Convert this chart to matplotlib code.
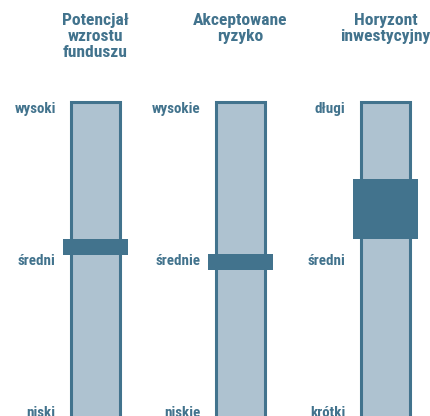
import matplotlib
matplotlib.use("Agg")
import matplotlib.pyplot as plt
import matplotlib.patches as patches

titles = ["Potencjał\nwzrostu\nfunduszu", "Akceptowane\nryzyko", "Horyzont\ninwestycyjny"]
level_labels = [["niski", "średni", "wysoki"],
                ["niskie", "średnie", "wysokie"],
                ["krótki", "średni", "długi"]]
level_values = [0, 1, 2]
marker_low = [1.04, 0.94, 1.145]
marker_high = [1.145, 1.045, 1.54]

dark = "#42738d"
light = "#aec2d0"
font = "Roboto Condensed"

fig = plt.figure(figsize=(4.31, 4.16), dpi=100)
ax = fig.add_axes([0, 0, 1, 1])
ax.set_xlim(-0.659, 2.314)
ax.set_ylim(-0.02, 2.72)
ax.axis("off")

bar_w = 0.34
mark_w = 0.448
for i in range(3):
    # column
    col = patches.Rectangle((i - bar_w / 2, -0.5), bar_w, 2.5 + 0.045,
                            facecolor=light, edgecolor=dark, linewidth=2.2, zorder=1)
    ax.add_patch(col)
    # marker
    mk = patches.Rectangle((i - mark_w / 2, marker_low[i]), mark_w,
                           marker_high[i] - marker_low[i],
                           facecolor=dark, edgecolor="none", zorder=2)
    ax.add_patch(mk)
    for v, lab in zip(level_values, level_labels[i]):
        ax.text(i - 0.275, v, lab, ha="right", va="center", fontsize=10.8,
                fontweight="bold", color=dark, family=font)
    ax.text(i, 2.635, titles[i], ha="center", va="top", fontsize=12.6,
            fontweight="bold", color=dark, family=font, linespacing=1.08)

fig.savefig("out.png", dpi=100)
